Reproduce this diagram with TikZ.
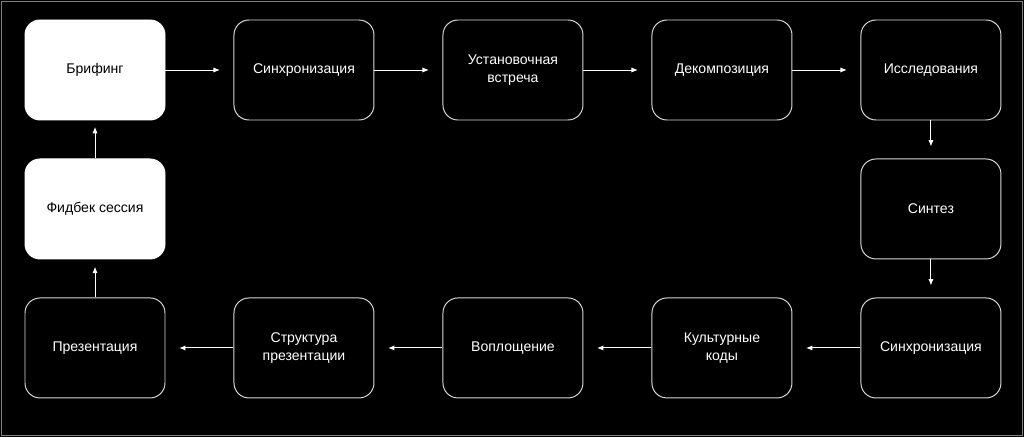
\documentclass[tikz,border=0pt]{standalone}
\usepackage{fontspec}
\setmainfont{Liberation Sans}
\usetikzlibrary{positioning}
\usetikzlibrary{arrows.meta}
\tikzset{
  stepnode/.style = {rectangle, rounded corners=3.75mm, align=center,
    minimum width=3.5cm, minimum height=2.5cm, inner sep=0pt,
    font=\fontsize{10pt}{12.5pt}\selectfont, line width=0.7pt},% etape
  dark_node/.style = {stepnode, draw=white!85!black, fill=black, text=white},% etape sombre
  light_node/.style = {stepnode, draw=white, fill=white, text=black},% etape claire
  flow/.style = {draw=white, line width=0.7pt,
    -{Latex[length=1.6mm, width=1.3mm]}, shorten >=3.4mm}% fleche
}

\begin{document}
\begin{tikzpicture}[node distance = 0.95cm and 1.7cm]
  \fill[black] (0,0) rectangle (25.6,-10.925);
  \draw[gray, line width=0.5pt] (0.03,-0.03) rectangle (25.57,-10.895);
  \useasboundingbox (0,0) rectangle (25.6,-10.925);

  \node [light_node] (brief) at (2.375,-1.75) {Брифинг};
  \node [dark_node, right=of brief] (sync1) {Синхронизация};
  \node [dark_node, right=of sync1] (kickoff) {Установочная\\встреча};
  \node [dark_node, right=of kickoff] (decomp) {Декомпозиция};
  \node [dark_node, right=of decomp] (research) {Исследования};
  \node [dark_node, below=of research] (synth) {Синтез};
  \node [dark_node, below=of synth] (sync2) {Синхронизация};
  \node [dark_node, left=of sync2] (codes) {Культурные\\коды};
  \node [dark_node, left=of codes] (impl) {Воплощение};
  \node [dark_node, left=of impl] (struct) {Структура\\презентации};
  \node [dark_node, left=of struct] (present) {Презентация};
  \node [light_node, above=of present] (feedback) {Фидбек сессия};

  \draw [flow] (brief) -- (sync1);
  \draw [flow] (sync1) -- (kickoff);
  \draw [flow] (kickoff) -- (decomp);
  \draw [flow] (decomp) -- (research);
  \draw [flow, shorten >=3mm] (research) -- (synth);
  \draw [flow, shorten >=3mm] (synth) -- (sync2);
  \draw [flow] (sync2) -- (codes);
  \draw [flow] (codes) -- (impl);
  \draw [flow] (impl) -- (struct);
  \draw [flow] (struct) -- (present);
  \draw [flow, shorten >=1.8mm] (present) -- (feedback);
  \draw [flow, shorten >=1.6mm] (feedback) -- (brief);
\end{tikzpicture}
\end{document}
